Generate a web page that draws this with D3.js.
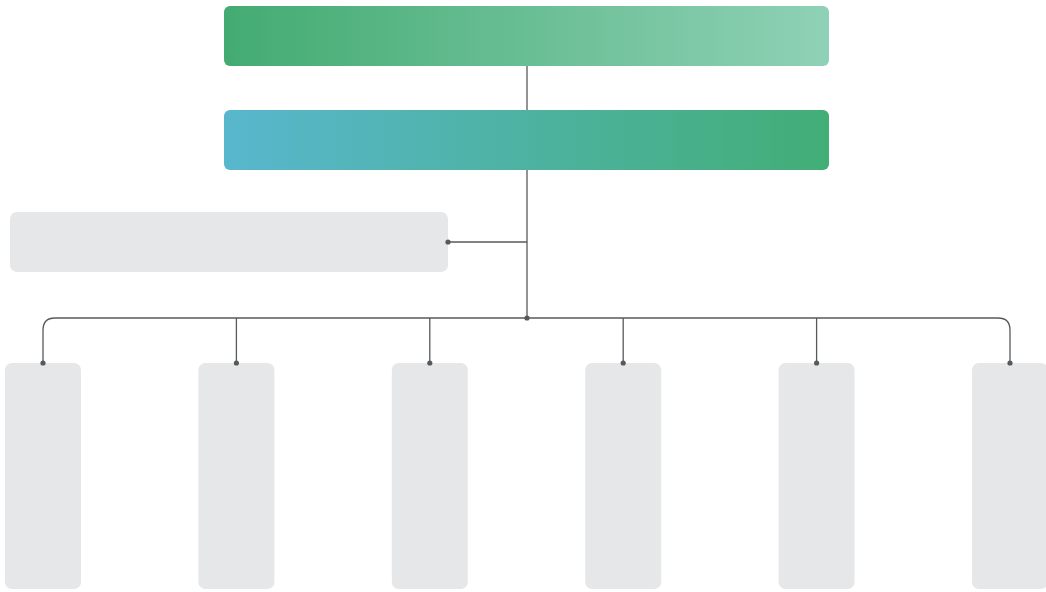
<!DOCTYPE html>
<html><head><meta charset="utf-8">
<script src="https://cdn.jsdelivr.net/npm/d3@7"></script>
<style>html,body{margin:0;padding:0;background:#fff;overflow:hidden}</style>
</head><body>
<svg id="c" width="1046" height="592"></svg>
<script>
// Org chart structure (no labels in the reference)
const topLevels = ["level1", "level2"];
const sideNode = ["assistant"];
const children = ["c1", "c2", "c3", "c4", "c5", "c6"];

const svg = d3.select("#c");
const defs = svg.append("defs");
const g1 = defs.append("linearGradient").attr("id", "g1");
g1.append("stop").attr("offset", "0%").attr("stop-color", "#43ab72");
g1.append("stop").attr("offset", "100%").attr("stop-color", "#8fd1b6");
const g2 = defs.append("linearGradient").attr("id", "g2");
g2.append("stop").attr("offset", "0%").attr("stop-color", "#58b7cd");
g2.append("stop").attr("offset", "100%").attr("stop-color", "#42ae76");
const fills = ["url(#g1)", "url(#g2)"];

const lineColor = "#58595b";
const gray = "#e6e7e8";

const yTop = d3.scalePoint().domain(topLevels).range([6, 110]);
const barX = 224, barW = 605, barH = 60;
const cx = 527;

const x = d3.scalePoint().domain(children).range([43, 1010]);
const boxW = 76, boxTop = 363, boxBottom = 589;
const busY = 318;

// lines
const lines = svg.append("g").attr("fill", "none").attr("stroke", lineColor).attr("stroke-width", 1.3);
lines.append("line").attr("x1", cx).attr("x2", cx).attr("y1", 66).attr("y2", busY);
lines.append("line").attr("x1", 448).attr("x2", cx).attr("y1", 242).attr("y2", 242);
const r = 12;
const x0 = x(children[0]), x1 = x(children[children.length - 1]);
lines.append("path").attr("d",
  `M${x0},${boxTop} L${x0},${busY + r} Q${x0},${busY} ${x0 + r},${busY} L${x1 - r},${busY} Q${x1},${busY} ${x1},${busY + r} L${x1},${boxTop}`);
lines.selectAll("line.ch").data(children.slice(1, -1)).join("line").attr("class", "ch")
  .attr("x1", d => x(d)).attr("x2", d => x(d)).attr("y1", busY).attr("y2", boxTop);

// top bars
svg.append("g").selectAll("rect").data(topLevels).join("rect")
  .attr("x", barX).attr("y", d => yTop(d)).attr("width", barW).attr("height", barH)
  .attr("rx", 6).attr("fill", (d, i) => fills[i]);

// side node
svg.append("g").selectAll("rect").data(sideNode).join("rect")
  .attr("x", 10).attr("y", 212).attr("width", 438).attr("height", 60).attr("rx", 7).attr("fill", gray);

// children boxes
svg.append("g").selectAll("rect").data(children).join("rect")
  .attr("x", d => x(d) - boxW / 2).attr("y", boxTop).attr("width", boxW).attr("height", boxBottom - boxTop)
  .attr("rx", 7).attr("fill", gray);

// dots
const dots = [[448, 242], [cx, busY]].concat(children.map(d => [x(d), boxTop]));
svg.append("g").selectAll("circle").data(dots).join("circle")
  .attr("cx", d => d[0]).attr("cy", d => d[1]).attr("r", 2.6).attr("fill", lineColor);
</script>
</body></html>
